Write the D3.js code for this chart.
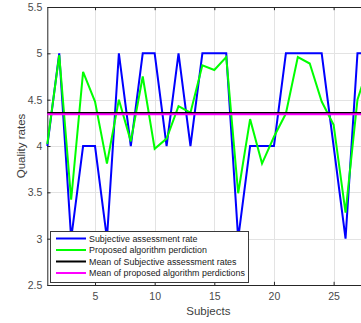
<!DOCTYPE html>
<html>
<head>
<meta charset="utf-8">
<script src="https://cdn.jsdelivr.net/npm/d3@7"></script>
<style>
  html, body { margin: 0; padding: 0; background: #fff; overflow: hidden; }
  svg { display: block; font-family: "Liberation Sans", Arial, sans-serif; }
</style>
</head>
<body>
<svg id="chart" width="361" height="323"></svg>
<script>
// subject index on the x axis
const subjects = [1, 2, 3, 4, 5, 6, 7, 8, 9, 10, 11, 12, 13, 14, 15, 16, 17, 18, 19, 20, 21, 22, 23, 24, 25, 26, 27, 28];

// subjective assessment rates (blue)
const subjectiveRates = [4, 5, 3, 4, 4, 3, 5, 4, 5, 5, 4, 5, 4, 5, 5, 5, 3, 4, 4, 4, 5, 5, 5, 5, 4, 3, 5, 5];

// proposed algorithm predictions (green)
const predictedRates = [4.02, 4.98, 3.42, 4.80, 4.48, 3.81, 4.50, 4.05, 4.75, 3.97, 4.08, 4.43, 4.36, 4.87,
  4.82, 4.96, 3.49, 4.29, 3.81, 4.10, 4.35, 4.96, 4.89, 4.48, 4.23, 3.28, 4.50, 4.90];

const yTicks = [2.5, 3, 3.5, 4, 4.5, 5, 5.5];
const xTicks = [5, 10, 15, 20, 25];

const legendLabels = [
  "Subjective assessment rate",
  "Proposed algorithm perdiction",
  "Mean of Subjective assessment rates",
  "Mean of proposed algorithm perdictions"
];
const seriesColors = ["#0000ff", "#00ff00", "#000000", "#ff00ff"];

const svg = d3.select("#chart");

// plot box (right edge lies just outside the cropped figure)
const plotLeft = 47.3, plotRight = 369.4, plotTop = 7, plotBottom = 285;

const x = d3.scaleLinear().domain([1, 28]).range([plotLeft, plotRight]);
const y = d3.scaleLinear().domain([2.5, 5.5]).range([plotBottom, plotTop]);

svg.append("rect").attr("x", 0).attr("y", 0).attr("width", 361).attr("height", 323).attr("fill", "#fff");

// grid
const grid = svg.append("g").attr("class", "grid");
grid.selectAll(".gx").data(xTicks).enter().append("line")
  .attr("x1", d => Math.round(x(d)) + 0.5).attr("x2", d => Math.round(x(d)) + 0.5)
  .attr("y1", plotTop).attr("y2", plotBottom)
  .attr("stroke", "#e3e3e3").attr("stroke-width", 1);
grid.selectAll(".gy").data(yTicks.slice(1, -1)).enter().append("line")
  .attr("x1", plotLeft).attr("x2", plotRight)
  .attr("y1", d => Math.round(y(d)) + 0.5).attr("y2", d => Math.round(y(d)) + 0.5)
  .attr("stroke", "#e3e3e3").attr("stroke-width", 1);

// axes, MATLAB style: ticks pointing inwards, box on
const axisColor = "#262626";
const xAxis = svg.append("g")
  .attr("transform", `translate(0,${plotBottom})`)
  .call(d3.axisBottom(x).tickValues(xTicks).tickSizeInner(-3.2).tickSizeOuter(0).tickPadding(8).tickFormat(d3.format("d")));
const xAxisTop = svg.append("g")
  .attr("transform", `translate(0,${plotTop})`)
  .call(d3.axisTop(x).tickValues(xTicks).tickSizeInner(-3.2).tickSizeOuter(0).tickFormat(""));
const yAxis = svg.append("g")
  .attr("transform", `translate(${plotLeft},0)`)
  .call(d3.axisLeft(y).tickValues(yTicks).tickSizeInner(-3.2).tickSizeOuter(0).tickPadding(5).tickFormat(d => String(d)));

[xAxis, xAxisTop, yAxis].forEach(g => {
  g.select(".domain").attr("stroke", axisColor).attr("stroke-width", 1);
  g.selectAll(".tick line").attr("stroke", axisColor);
  g.selectAll(".tick text").attr("fill", "#4a4a4a").style("font-size", "10.5px")
    .style("font-family", "'Liberation Sans', Arial, sans-serif");
});

// axis titles
svg.append("text")
  .attr("x", (plotLeft + plotRight) / 2).attr("y", 315)
  .attr("text-anchor", "middle")
  .attr("fill", "#404040")
  .style("font-size", "11.5px")
  .text("Subjects");
svg.append("text")
  .attr("transform", `translate(24.5,${(plotTop + plotBottom) / 2}) rotate(-90)`)
  .attr("text-anchor", "middle")
  .attr("fill", "#404040")
  .style("font-size", "11.5px")
  .text("Quality rates");

// data lines
const plot = svg.append("g");
const line = d3.line().x(d => x(d[0])).y(d => y(d[1]));

plot.append("path")
  .attr("d", line(subjects.map((s, i) => [s, subjectiveRates[i]])))
  .attr("fill", "none").attr("stroke", seriesColors[0]).attr("stroke-width", 2);
plot.append("path")
  .attr("d", line(subjects.map((s, i) => [s, predictedRates[i]])))
  .attr("fill", "none").attr("stroke", seriesColors[1]).attr("stroke-width", 2);

const means = [d3.mean(subjectiveRates), d3.mean(predictedRates)];
means.forEach((m, i) => {
  plot.append("path")
    .attr("d", line([[subjects[0], m], [subjects[subjects.length - 1], m]]))
    .attr("fill", "none").attr("stroke", seriesColors[i + 2]).attr("stroke-width", 2);
});

// legend
const legend = svg.append("g").attr("transform", "translate(50.5,231.5)");
legend.append("rect")
  .attr("width", 198).attr("height", 51)
  .attr("fill", "#fff").attr("stroke", "#3a3a3a").attr("stroke-width", 1);
const rows = legend.selectAll(".row").data(legendLabels).enter().append("g")
  .attr("transform", (d, i) => `translate(0,${7 + i * 11.5})`);
rows.append("line")
  .attr("x1", 5.5).attr("x2", 35.5).attr("y1", 0).attr("y2", 0)
  .attr("stroke", (d, i) => seriesColors[i]).attr("stroke-width", 2);
rows.append("text")
  .attr("x", 38.5).attr("y", 0).attr("dy", "0.35em")
  .attr("fill", "#1a1a1a")
  .style("font-size", "8.9px")
  .text(d => d);
</script>
</body>
</html>
